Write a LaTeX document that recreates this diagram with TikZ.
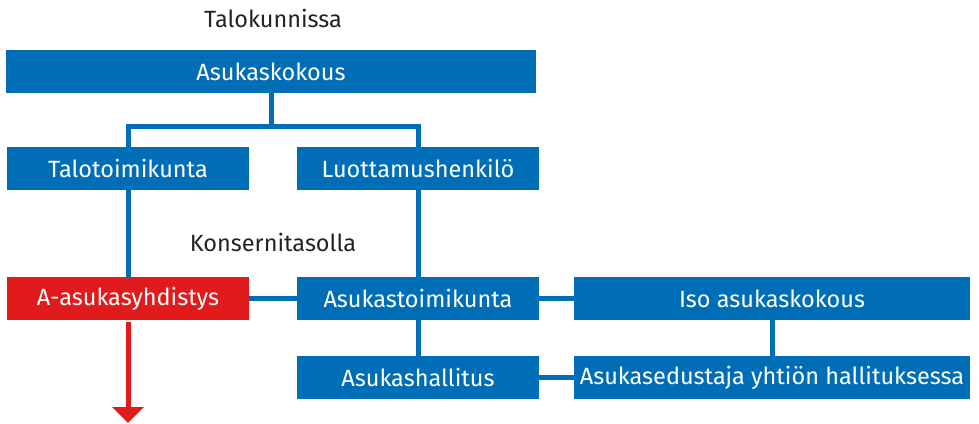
\documentclass[tikz,border=0pt]{standalone}
\usepackage{fontspec}
\setmainfont{Fira Sans}
\usetikzlibrary{arrows.meta}
\definecolor{orgblue}{RGB}{0,110,182}
\definecolor{orgred}{RGB}{225,27,27}
\definecolor{headgray}{RGB}{35,35,35}
\begin{document}
\begin{tikzpicture}
[x=1pt,y=-1pt,
  boxdecorate/.style={shape=rectangle,text=white,inner sep=0pt,minimum height=43pt,font=\fontsize{23.5}{28}\selectfont},%
  headdecorate/.style={text=headgray,inner sep=0pt,font=\fontsize{23.5}{28}\selectfont},%
  linedecorate/.style={-,draw=orgblue,line width=5pt},%
  arrowdecorate/.style={-{Triangle[width=31pt,length=16pt]},draw=orgred,line width=5pt}]
\useasboundingbox (0,0) rectangle (979,423);
%% headings
\node (talok) at (273,18) [headdecorate] {Talokunnissa};
\node (konse) at (273,242) [headdecorate] {Konsernitasolla};
%% boxes
\foreach \nodename/\x/\y/\w/\c/\txt in {kokous/271/71.5/530/orgblue/Asukaskokous,
    taloto/128/168.5/242/orgblue/Talotoimikunta, luotta/418/168.5/242/orgblue/Luottamushenkilö,
    ayhd/128/298.5/242/orgred/A-asukasyhdistys, astoim/418/298.5/242/orgblue/Asukastoimikunta,
    ahall/418/377.5/242/orgblue/Asukashallitus, isoko/772/298.5/396/orgblue/Iso asukaskokous,
    edust/772/377.5/396/orgblue/Asukasedustaja yhtiön hallituksessa} {
  \node (\nodename) at (\x,\y) [boxdecorate,fill=\c,minimum width=\w pt] {\txt};
}
%% lines
\coordinate (fork) at (271,126);
\coordinate (down) at (130,423);
\draw[linedecorate] (kokous.south) -- (fork);
\draw[linedecorate] (taloto.north) |- (fork) -| (luotta.north);
\path
\foreach \startnode/\endnode in {taloto/ayhd, luotta/astoim, ayhd/astoim,
    astoim/isoko, astoim/ahall, isoko/edust, ahall/edust} {
  (\startnode) edge[linedecorate] (\endnode)
};
\draw[arrowdecorate,shorten <=2pt] (ayhd.south) -- (ayhd.south |- down);
\end{tikzpicture}
\end{document}
